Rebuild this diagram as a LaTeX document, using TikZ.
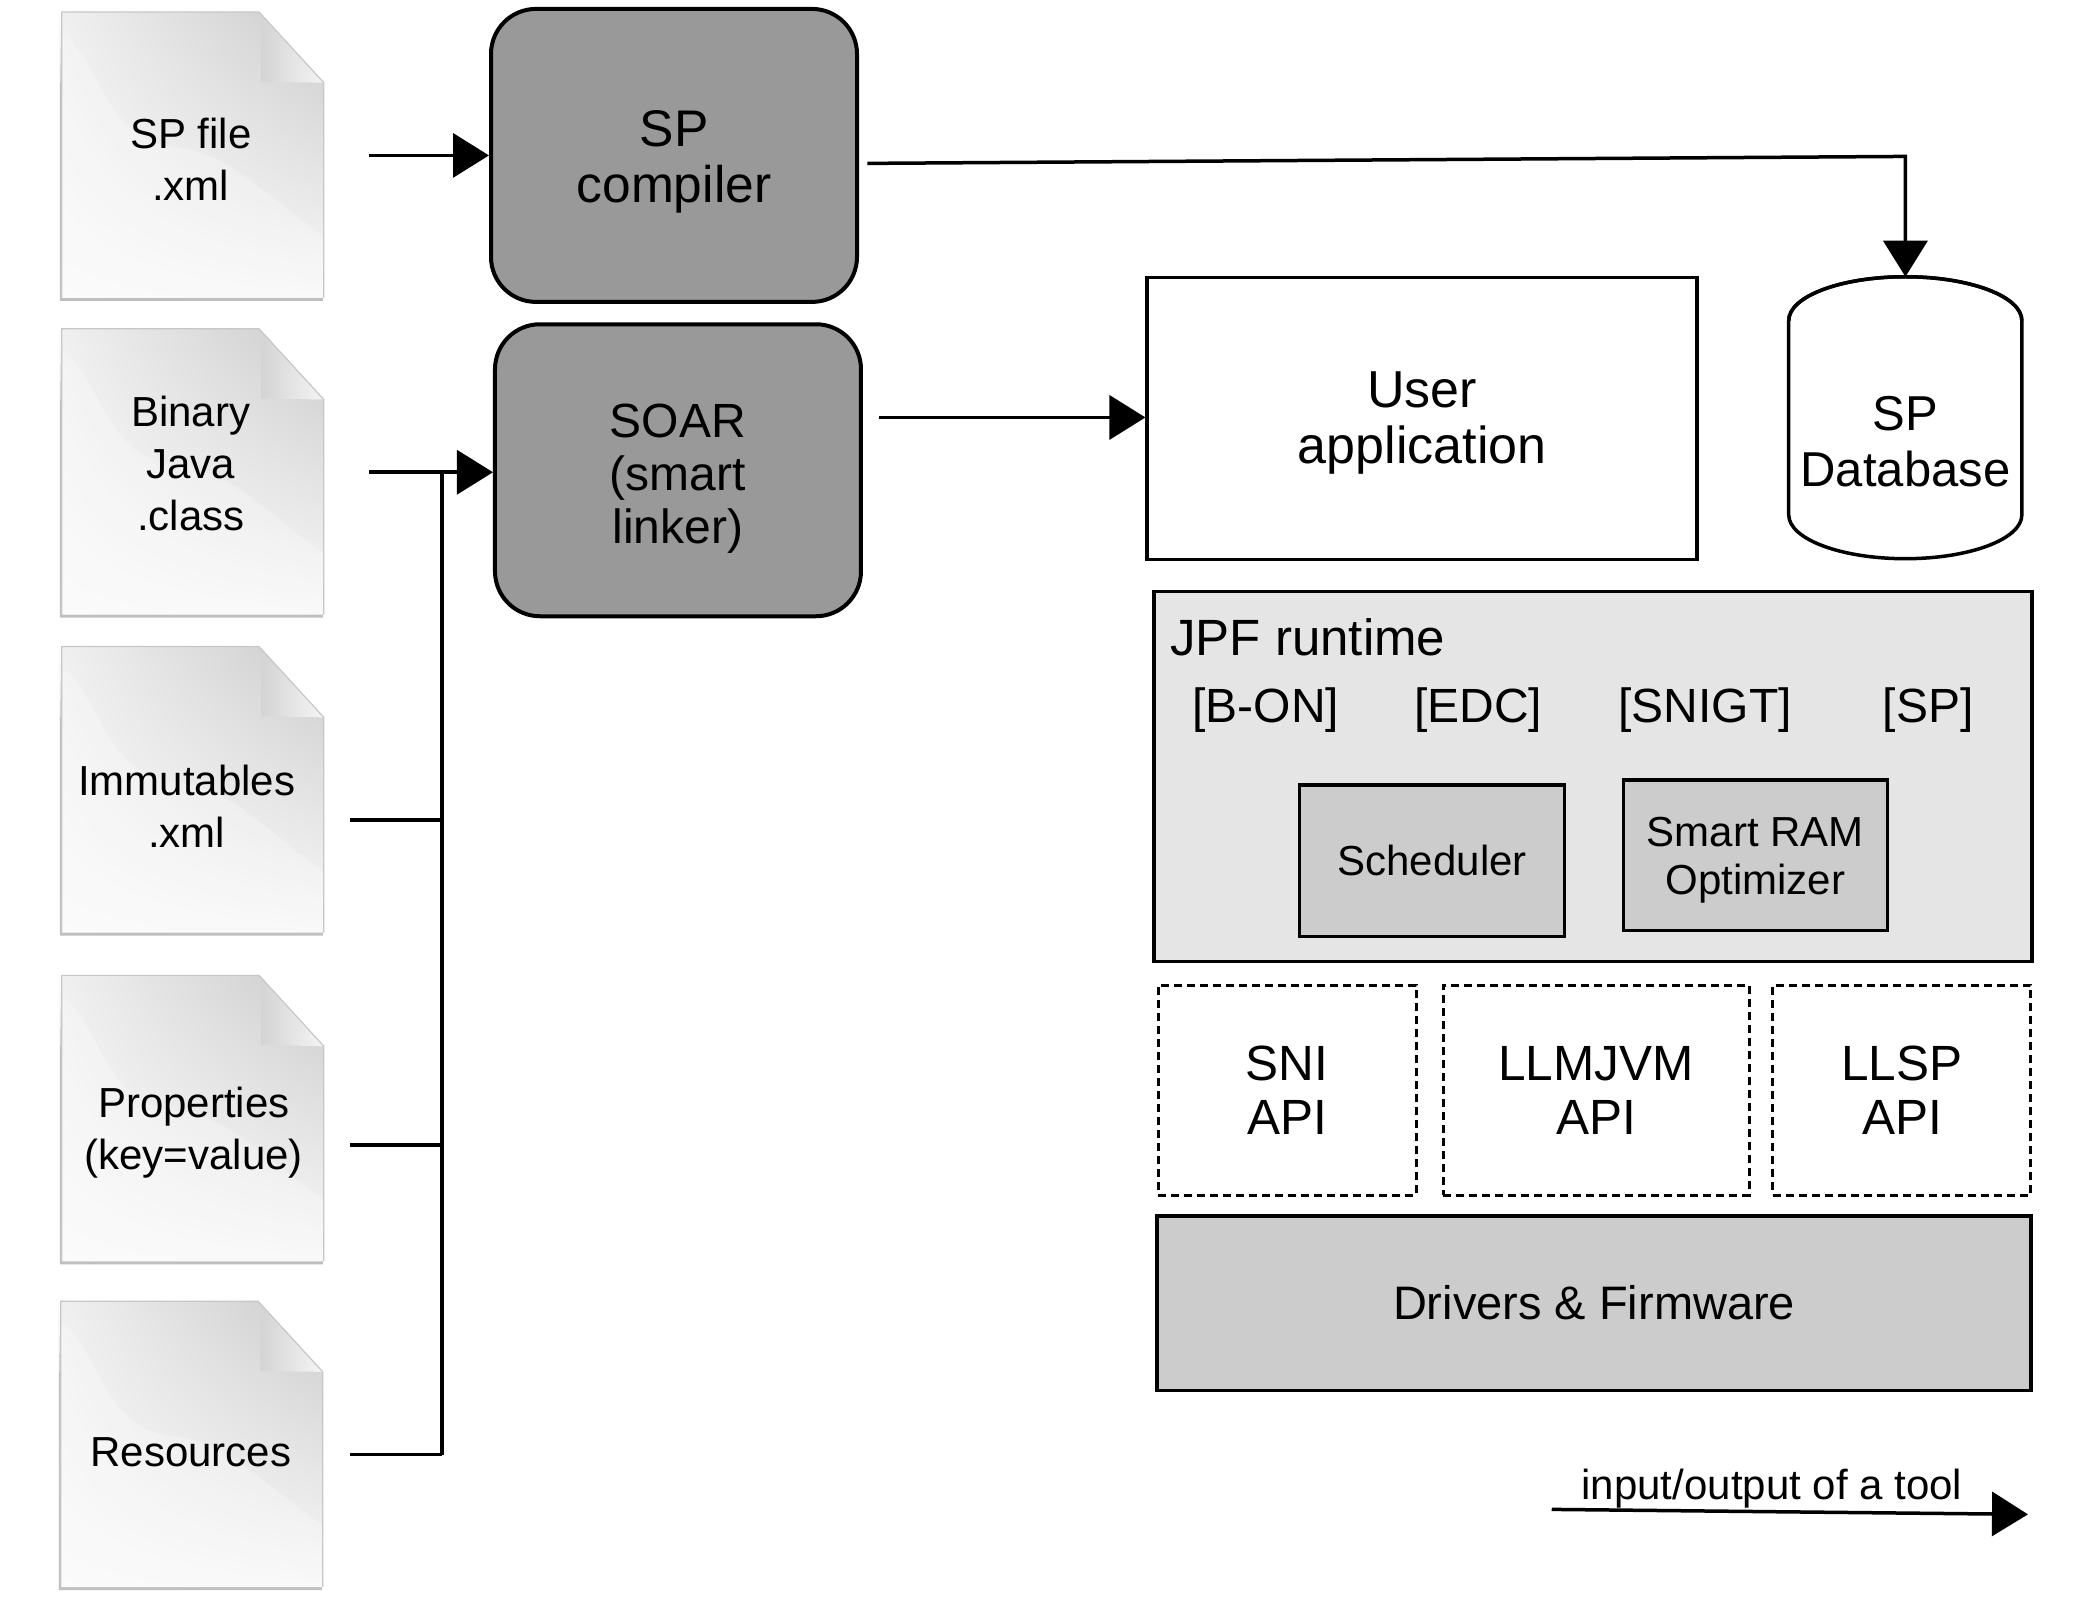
\documentclass[tikz,border=0pt]{standalone}
\usepackage{fontspec}
\setmainfont{Liberation Sans}
\usetikzlibrary{arrows.meta,calc,shadings}
\definecolor{tooldark}{HTML}{999999}
\definecolor{lightpanel}{HTML}{E5E5E5}
\definecolor{midpanel}{HTML}{CCCCCC}
\newcommand{\fs}[2]{\fontsize{#1}{#2}\selectfont}
\newcommand{\docpage}[2]{%
  \begin{scope}[shift={(#1,#2)}]
    \fill[black!25] (-2,2) -- (-2,290) -- (262,290) -- (262,284) -- (2,284) -- cycle;
    \begin{scope}
      \clip (0,0) -- (198,0) -- (263,71) -- (263,287) -- (0,287) -- cycle;
      \shade[lower left=white!98!black,lower right=white!97!black,upper left=white!94!black,upper right=white!80!black] (0,287) rectangle (263,0);
      \fill[white,opacity=.25] (6,25) .. controls (40,60) and (50,130) .. (110,135) .. controls (170,140) and (210,190) .. (263,225) -- (263,287) -- (0,287) -- (0,25) -- cycle;
      \shade[left color=white!83!black,right color=white!96!black] (200,0) -- (263,71) -- (200,70) -- cycle;
    \end{scope}
    \draw[black!22,line width=1.2pt] (0,287) -- (0,0) -- (198,0) -- (263,71) -- (263,287);
  \end{scope}}
\tikzset{
  x=0.9963pt,y=-0.9963pt,
  lbl/.style={font=\fs{42}{52},align=center,inner sep=0},
  toolbox/.style={draw=black,line width=4pt,fill=tooldark,rounded corners=45pt,inner sep=0},
  tooltext/.style={align=center,inner sep=0},
  plainbox/.style={draw=black,line width=3.5pt,inner sep=0,align=center},
  dashbox/.style={plainbox,line width=3pt,dash pattern=on 8pt off 5pt,font=\fs{49.5}{54}},
  conn/.style={line width=3.5pt,draw=black},
  arr/.style={conn,-{Triangle[length=36pt,width=44pt]}},
  tag/.style={font=\fs{48}{55},inner sep=0}
}
\begin{document}
\begin{tikzpicture}
\useasboundingbox (-1.5,0) rectangle (2102.3,1605.9);
\docpage{60.5}{12}
\docpage{60.5}{330}
\docpage{60.5}{649}
\docpage{60.5}{979}
\docpage{59.5}{1306}
\node[lbl] (f1) at (190,160) {SP file\\.xml};
\node[lbl] (f2) at (190,465.5) {Binary\\Java\\.class};
\node[lbl] (f3) at (186,809) {Immutables\\.xml};
\node[lbl] (f4) at (193,1137) {Properties\\(key=value)};
\node[lbl] (f5) at (190,1458) {Resources};

\node[toolbox,minimum width=366pt,minimum height=293pt] (spc) at (675,156) {};
\node[tooltext,font=\fs{51.5}{56}] (spct) at (675,162) {SP\\compiler};
\node[toolbox,minimum width=366pt,minimum height=292pt] (soar) at (679,472) {};
\node[tooltext,font=\fs{48}{53}] (soart) at (679,480) {SOAR\\(smart\\linker)};
\node[plainbox,minimum width=550pt,minimum height=282pt] (user) at (1426,420) {};
\node[tooltext,font=\fs{52}{56}] (usert) at (1426,425) {User\\application};

% database
\node[minimum width=233pt,minimum height=282pt,inner sep=0] (db) at (1911,419.5) {};
\draw[line width=3.5pt,fill=white] (db.north west) ++(0,44) arc[x radius=117,y radius=-44,start angle=180,end angle=0] -- ++(0,195) arc[x radius=117,y radius=-44,start angle=0,end angle=-180] -- cycle;
\draw[line width=3.5pt] (db.north west) ++(0,44) arc[x radius=117,y radius=44,start angle=180,end angle=360];
\node[font=\fs{49}{56},align=center,inner sep=0] (dbt) at (1911,443) {SP\\Database};

% runtime
\node[plainbox,fill=lightpanel,minimum width=878pt,minimum height=370pt] (jpf) at (1597.5,779.5) {};
\node[tag,anchor=west,font=\fs{51}{55}] (jt) at (1173,640) {JPF runtime};
\node[tag] (t1) at (1269,713) {[B-ON]};
\node[tag] (t2) at (1482,713) {[EDC]};
\node[tag] (t3) at (1710,713) {[SNIGT]};
\node[tag] (t4) at (1934,713) {[SP]};
\node[plainbox,fill=midpanel,minimum width=265pt,minimum height=151.5pt,font=\fs{42}{48}] (sch) at (1436,864) {Scheduler};
\node[plainbox,fill=midpanel,minimum width=264pt,minimum height=150.5pt] (ram) at (1760.5,858.5) {};
\node[tooltext,font=\fs{42}{48}] (ramt) at (1760.5,863) {Smart RAM\\Optimizer};
\node[dashbox,minimum width=258pt,minimum height=210pt] (sni) at (1290.5,1094.5) {SNI\\API};
\node[dashbox,minimum width=306pt,minimum height=210pt] (llm) at (1600.5,1094.5) {LLMJVM\\API};
\node[dashbox,minimum width=258pt,minimum height=210pt] (lls) at (1907.5,1094.5) {LLSP\\API};
\node[plainbox,fill=midpanel,minimum width=874pt,minimum height=174.5pt,font=\fs{47}{52}] (drv) at (1598.5,1308) {Drivers \& Firmware};

% connectors
\coordinate (a1) at (369,156);
\coordinate (a2) at (369,474);
\coordinate (a3) at (869,164);
\coordinate (a3b) at (1911,157);
\coordinate (a4) at (881,419);
\coordinate (j) at (442,474);
\coordinate (b3) at (350,823);
\coordinate (b4) at (350,1149);
\coordinate (b5) at (350,1460);
\coordinate (l1) at (1556,1515);
\coordinate (l2) at (2034,1520);
\draw[arr] (a1) -- (spc.west |- a1);
\draw[arr] (a2) -- (soar.west |- a2);
\draw[conn] (j) -- (j |- b5);
\draw[conn] (b3) -- (b3 -| j);
\draw[conn] (b4) -- (b4 -| j);
\draw[conn] (b5) -- (b5 -| j);
\draw[arr] (a3) -- (a3b) -- (db.north);
\draw[arr] (a4) -- (user.west |- a4);
\draw[arr] (l1) -- (l2);
\node[font=\fs{42}{46},inner sep=0] (lg) at (1777,1494) {input/output of a tool};
\end{tikzpicture}
\end{document}
